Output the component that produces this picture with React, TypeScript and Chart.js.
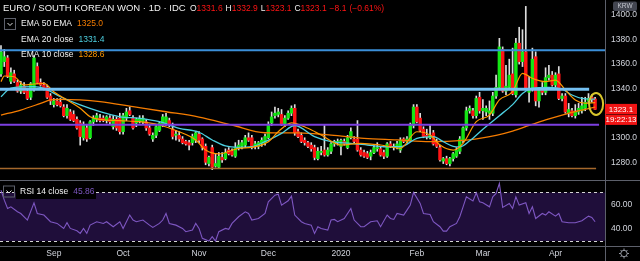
import React, { useEffect, useRef } from 'react';
import { Chart, registerables } from 'chart.js';

Chart.register(...registerables);

// ---------- DATA ----------
const openP = [
  1352, 1362, 1365, 1346, 1352, 1345, 1338, 1342, 1338, 1333, 1340, 1358, 1345, 1343, 1341, 1334, 1327, 1330, 1329, 1325,
  1318, 1321, 1319, 1315, 1312, 1300, 1308, 1300, 1313, 1315, 1316, 1316, 1314, 1316, 1309, 1315, 1316, 1305, 1316, 1322,
  1316, 1312, 1314, 1313, 1313, 1308, 1299, 1302, 1306, 1310, 1312, 1314, 1307, 1302, 1302, 1299, 1297, 1296, 1296, 1298,
  1303, 1299, 1293, 1279, 1292, 1277, 1276, 1284, 1283, 1290, 1289, 1285, 1292, 1293, 1294, 1300, 1300, 1293, 1293, 1295,
  1296, 1300, 1312, 1318, 1319, 1319, 1311, 1316, 1320, 1324, 1305, 1302, 1298, 1296, 1294, 1292, 1283, 1288, 1290, 1286,
  1289, 1295, 1296, 1293, 1297, 1292, 1300, 1299, 1299, 1290, 1288, 1287, 1285, 1288, 1291, 1291, 1288, 1285, 1295, 1292,
  1292, 1290, 1299, 1297, 1298, 1310, 1325, 1316, 1307, 1302, 1300, 1304, 1297, 1292, 1281, 1283, 1279, 1283, 1285, 1289,
  1298, 1308, 1322, 1322, 1318, 1333, 1322, 1321, 1320, 1320, 1334, 1341, 1372, 1338, 1341, 1352, 1335, 1377, 1362, 1370,
  1337, 1340, 1366, 1330, 1340, 1337, 1349, 1351, 1343, 1352, 1332, 1334, 1320, 1322, 1318, 1321, 1322, 1324, 1330, 1333,
  1331.6,
];
const highP = [
  1375, 1372, 1367, 1357, 1355, 1347, 1346, 1345, 1340, 1345, 1367, 1361, 1348, 1345, 1343, 1336, 1332, 1332, 1332, 1327,
  1327, 1323, 1322, 1317, 1314, 1313, 1311, 1314, 1318, 1320, 1319, 1318, 1318, 1318, 1318, 1317, 1320, 1320, 1324, 1325,
  1318, 1316, 1318, 1318, 1315, 1310, 1304, 1310, 1313, 1319, 1320, 1316, 1312, 1306, 1305, 1301, 1298, 1298, 1303, 1305,
  1305, 1300, 1295, 1285, 1294, 1287, 1288, 1288, 1291, 1292, 1291, 1296, 1298, 1298, 1302, 1304, 1302, 1297, 1297, 1300,
  1303, 1313, 1321, 1325, 1324, 1323, 1318, 1322, 1326, 1327, 1307, 1304, 1300, 1297, 1296, 1294, 1292, 1293, 1310, 1292,
  1296, 1298, 1299, 1299, 1299, 1302, 1308, 1301, 1314, 1292, 1290, 1289, 1290, 1294, 1296, 1293, 1290, 1296, 1297, 1295,
  1297, 1300, 1300, 1301, 1312, 1327, 1327, 1320, 1309, 1307, 1310, 1306, 1299, 1294, 1284, 1285, 1284, 1288, 1292, 1301,
  1309, 1325, 1326, 1324, 1334, 1337, 1331, 1326, 1330, 1337, 1351, 1381, 1374, 1359, 1364, 1373, 1381, 1390, 1388, 1407,
  1350, 1373, 1370, 1340, 1345, 1357, 1359, 1354, 1353, 1358, 1336, 1336, 1328, 1324, 1327, 1328, 1333, 1333, 1336, 1335,
  1332.9,
];
const lowP = [
  1350, 1358, 1349, 1344, 1345, 1337, 1336, 1336, 1331, 1331, 1338, 1344, 1342, 1339, 1332, 1327, 1325, 1326, 1325, 1317,
  1316, 1314, 1313, 1307, 1294, 1298, 1297, 1299, 1310, 1313, 1313, 1313, 1312, 1311, 1307, 1306, 1303, 1303, 1314, 1318,
  1307, 1309, 1312, 1311, 1306, 1302, 1297, 1300, 1305, 1309, 1310, 1309, 1299, 1298, 1297, 1295, 1294, 1290, 1294, 1296,
  1296, 1290, 1278, 1277, 1274, 1276, 1275, 1280, 1282, 1286, 1285, 1284, 1290, 1291, 1292, 1297, 1291, 1291, 1291, 1293,
  1294, 1299, 1310, 1316, 1317, 1310, 1309, 1315, 1318, 1302, 1300, 1296, 1294, 1292, 1289, 1282, 1282, 1286, 1285, 1285,
  1287, 1293, 1294, 1286, 1294, 1291, 1299, 1296, 1289, 1285, 1284, 1283, 1282, 1287, 1289, 1285, 1283, 1284, 1292, 1290,
  1291, 1288, 1296, 1296, 1297, 1308, 1312, 1305, 1300, 1299, 1299, 1294, 1292, 1281, 1279, 1278, 1277, 1281, 1284, 1287,
  1296, 1306, 1320, 1316, 1316, 1320, 1315, 1318, 1315, 1318, 1332, 1339, 1337, 1335, 1339, 1335, 1333, 1360, 1358, 1339,
  1329, 1338, 1326, 1325, 1335, 1335, 1347, 1342, 1341, 1331, 1330, 1320, 1317, 1317, 1316, 1319, 1320, 1322, 1328, 1329,
  1323.1,
];
const closeP = [
  1370, 1366, 1350, 1353, 1346, 1338, 1343, 1337, 1332, 1344, 1365, 1345, 1343, 1340, 1333, 1330, 1330, 1327, 1326, 1318,
  1324, 1315, 1314, 1308, 1301, 1310, 1299, 1313, 1316, 1318, 1314, 1314, 1317, 1313, 1315, 1308, 1305, 1318, 1321, 1319,
  1308, 1315, 1316, 1316, 1308, 1303, 1302, 1309, 1312, 1317, 1317, 1310, 1301, 1303, 1299, 1296, 1295, 1294, 1301, 1304,
  1298, 1292, 1280, 1284, 1276, 1279, 1285, 1282, 1288, 1287, 1286, 1292, 1294, 1296, 1300, 1298, 1292, 1295, 1296, 1298,
  1301, 1311, 1317, 1320, 1321, 1311, 1316, 1320, 1324, 1304, 1301, 1297, 1296, 1293, 1291, 1284, 1289, 1289, 1286, 1290,
  1295, 1297, 1297, 1298, 1295, 1300, 1305, 1297, 1290, 1286, 1285, 1284, 1288, 1292, 1292, 1286, 1285, 1295, 1293, 1293,
  1295, 1298, 1297, 1299, 1310, 1325, 1313, 1306, 1301, 1301, 1302, 1295, 1293, 1282, 1283, 1279, 1283, 1287, 1290, 1299,
  1308, 1322, 1324, 1318, 1332, 1322, 1324, 1324, 1322, 1334, 1341, 1374, 1338, 1342, 1351, 1336, 1377, 1362, 1370, 1340,
  1340, 1364, 1330, 1339, 1337, 1349, 1351, 1343, 1351, 1332, 1334, 1321, 1323, 1318, 1321, 1324, 1326, 1329, 1332, 1331.2,
  1323.1,
];

const monthTicks = [16, 37, 60, 81, 103, 126, 146, 168];
const monthLabels = ['Sep', 'Oct', 'Nov', 'Dec', '2020', 'Feb', 'Mar', 'Apr'];
const priceTicks = [1280, 1300, 1340, 1360, 1380, 1400];
const rsiTicks = [40, 60];

const ema50 = [
  [0, 1318.5], [6, 1322.6], [12, 1328], [15, 1330.8], [18, 1331.3], [24, 1330.8], [30, 1329.4], [40, 1325.3],
  [50, 1321.2], [60, 1316.9], [70, 1310.4], [80, 1304.1], [90, 1303.9], [100, 1302.2], [110, 1299.5], [120, 1298.2],
  [130, 1296.8], [140, 1297.8], [145, 1299.5], [150, 1302], [155, 1305.5], [160, 1310], [165, 1314.5], [170, 1318.5],
  [175, 1322], [180, 1325.0],
];
const ema20 = [
  [0, 1333.4], [3, 1340.5], [10, 1341.6], [13, 1340.3], [18, 1333.4], [24, 1326.7], [30, 1321.2], [36, 1317.1],
  [42, 1315.8], [48, 1313.1], [54, 1307.7], [60, 1304.5], [64, 1298.2], [68, 1293.3], [72, 1292.2], [76, 1292.7],
  [80, 1296.8], [85, 1303.6], [89, 1310], [95, 1300.9], [100, 1296.8], [106, 1295.5], [111, 1294.1], [116, 1292.7],
  [121, 1292.7], [126, 1299.5], [131, 1300.9], [134, 1296.8], [137, 1293], [139, 1292.5], [142, 1297.5], [146, 1307],
  [151, 1318], [155, 1327], [158, 1336], [161, 1340.5], [166, 1341.1], [170, 1339.5], [173, 1334.8], [176, 1332.1],
  [180, 1331.4],
];
const ema10 = [
  [0, 1345.7], [1, 1350.3], [4, 1349.7], [7, 1343], [10, 1343.8], [13, 1344.3], [16, 1337.5], [20, 1330.8],
  [24, 1324], [27, 1317.1], [30, 1315], [36, 1313.9], [42, 1313.1], [48, 1310.4], [54, 1304.9], [59, 1298.2],
  [62, 1290], [66, 1286.8], [72, 1291.4], [76, 1292.2], [81, 1296.8], [84, 1304.9], [88, 1312.2], [93, 1307.7],
  [97, 1302.2], [103, 1294.1], [109, 1295.5], [115, 1294.1], [121, 1291.4], [126, 1304.9], [130, 1302.2], [133, 1294.1],
  [137, 1290], [140, 1295.5], [144, 1313.1], [148, 1318.5], [151, 1330.8], [155, 1337.5], [158, 1352.5], [161, 1348.4],
  [165, 1345.7], [168, 1347], [171, 1338.9], [174, 1330.8], [177, 1328.1], [180, 1328.6],
];
const rsi14 = [
  [0, 71.9], [1, 63.7], [2, 56.8], [3, 58.2], [5, 54.1], [6, 52.7], [8, 47.3], [10, 61.5], [11, 52.7], [13, 51.4],
  [15, 45.9], [17, 44.5], [19, 40.4], [20, 45.1], [21, 40.4], [23, 38.5], [24, 36.3], [25, 40.4], [26, 36.3], [27, 43.1],
  [29, 45.9], [31, 44.5], [32, 45.9], [34, 41.8], [36, 45.9], [37, 40.4], [39, 51.4], [40, 47.3], [41, 45.9], [43, 47.3],
  [45, 43.1], [46, 41.2], [48, 44.5], [49, 47.3], [50, 52.7], [51, 44.5], [53, 43.1], [55, 40.4], [56, 37.7], [58, 39],
  [59, 44.5], [60, 40.4], [61, 32.2], [63, 30], [64, 33.6], [65, 30], [66, 37.7], [68, 40.4], [69, 39.6], [70, 44.5],
  [72, 50], [74, 54.1], [75, 52.7], [76, 47.3], [78, 48.6], [80, 52.7], [81, 62.3], [83, 67.8], [84, 68.6], [85, 59.6],
  [87, 63.2], [88, 67], [89, 51.4], [91, 45.9], [92, 44.5], [94, 43.1], [95, 36.3], [96, 41.8], [97, 40.4], [99, 39],
  [100, 47.3], [101, 47.8], [102, 45.9], [104, 48.6], [106, 56.8], [107, 47.3], [109, 41.8], [110, 41.8], [112, 45.9],
  [114, 46.7], [115, 41.8], [117, 51.4], [118, 48.6], [119, 47.8], [120, 52.7], [122, 51.4], [123, 55.5], [124, 59.6],
  [125, 70], [127, 61], [128, 52.7], [130, 51.9], [131, 45.9], [133, 41.8], [134, 38.2], [135, 38.2], [136, 41.8],
  [138, 44.5], [139, 50], [140, 58.2], [141, 66.4], [143, 63.1], [144, 69.7], [145, 62.3], [146, 61.5], [148, 58.2],
  [149, 66.4], [150, 69.2], [151, 77.4], [152, 57.7], [154, 61], [155, 56.8], [156, 66.4], [157, 59.6], [159, 61.5],
  [160, 52.7], [161, 58.2], [162, 48.6], [164, 52.7], [165, 51.4], [166, 54.1], [168, 50.5], [169, 52.7], [170, 45.9],
  [172, 45.1], [174, 45.1], [176, 46.7], [178, 50.5], [179, 49.5], [180, 45.86],
];

const levelValues = [1371.3, 1339.5, 1310.5, 1275.0];
const levelEnds = [183, 178.2, 181.2, 180.3];
const levelColors = ['#3b8fd9', '#74c0f2', '#7c3fe0', '#a5682c'];
const levelWidths = [2, 3, 2, 1.5];

// ---------- STYLE ----------
const X_MIN = -0.3;
const X_MAX = 183;
const FONT = '"Liberation Sans", Arial, sans-serif';
const GREEN = '#14e614';
const RED = '#ff1414';
const WICK = '#dcdcdc';
const AXIS_TEXT = '#d1d4dc';
const LINE_GRAY = '#5d606b';
const ORANGE50 = '#f57c00';
const CYAN20 = '#4dd0e1';
const ORANGE10 = '#ff9800';
const RSI_COLOR = '#7e57c2';

const last = closeP.length - 1;

function drawChevronBox(ctx: CanvasRenderingContext2D, x: number, y: number) {
  ctx.strokeStyle = LINE_GRAY;
  ctx.lineWidth = 1;
  ctx.strokeRect(x + 0.5, y + 0.5, 11, 11);
  ctx.strokeStyle = '#e0e0e0';
  ctx.beginPath();
  ctx.moveTo(x + 3.5, y + 5);
  ctx.lineTo(x + 6, y + 7.5);
  ctx.lineTo(x + 8.5, y + 5);
  ctx.stroke();
}

const mainOverlay = {
  id: 'mainOverlay',
  afterDraw(chart: any) {
    const ctx = chart.ctx as CanvasRenderingContext2D;
    const xs = chart.scales.x;
    const ys = chart.scales.y;
    ctx.save();
    ctx.strokeStyle = LINE_GRAY;
    ctx.lineWidth = 1;
    ctx.beginPath();
    ctx.moveTo(605.5, 0);
    ctx.lineTo(605.5, 180);
    ctx.stroke();

    ctx.textBaseline = 'middle';
    ctx.textAlign = 'left';
    ctx.font = `9.5px ${FONT}`;
    ctx.fillStyle = '#f0f0f0';
    ctx.fillText('EURO / SOUTH KOREAN WON · 1D · IDC', 3, 8.5);

    ctx.font = `8.5px ${FONT}`;
    const chg = closeP[last] - closeP[last - 1];
    const pct = (chg / closeP[last - 1]) * 100;
    const parts: [string, string, number][] = [
      ['O', '#f0f0f0', 0], [openP[last].toFixed(1), RED, 3],
      ['H', '#f0f0f0', 0], [highP[last].toFixed(1), RED, 3],
      ['L', '#f0f0f0', 0], [lowP[last].toFixed(1), RED, 3],
      ['C', '#f0f0f0', 0], [closeP[last].toFixed(1), RED, 3],
      ['\u2212' + Math.abs(chg).toFixed(1), RED, 3],
      ['(\u2212' + Math.abs(pct).toFixed(2) + '%)', RED, 0],
    ];
    let px = 190;
    for (const [t, c, gap] of parts) {
      ctx.fillStyle = c;
      ctx.fillText(t, px, 9);
      px += ctx.measureText(t).width + gap;
    }

    drawChevronBox(ctx, 4, 18);
    ctx.font = `8.5px ${FONT}`;
    const rows: [string, string, string, number][] = [
      ['EMA 50 EMA', ema50[ema50.length - 1][1].toFixed(1), ORANGE50, 24],
      ['EMA 20 close', ema20[ema20.length - 1][1].toFixed(1), CYAN20, 39.5],
      ['EMA 10 close', ema10[ema10.length - 1][1].toFixed(1), ORANGE10, 55],
    ];
    for (const [lab, val, col, y] of rows) {
      ctx.fillStyle = '#f0f0f0';
      ctx.fillText(lab, 21, y);
      const w = ctx.measureText(lab).width;
      ctx.fillStyle = col;
      ctx.fillText(val, 21 + w + 5, y);
    }

    const cx = xs.getPixelForValue(last);
    const cy = ys.getPixelForValue(1327.5);
    ctx.strokeStyle = '#d8c62c';
    ctx.lineWidth = 2;
    ctx.beginPath();
    ctx.ellipse(cx + 1, cy, 7, 11, 0, 0, Math.PI * 2);
    ctx.stroke();

    const ly = ys.getPixelForValue(closeP[last]);
    ctx.fillStyle = '#f01414';
    ctx.fillRect(605, ly - 5.5, 32, 10.5);
    ctx.fillRect(605, ly + 5.5, 32, 10);
    ctx.fillStyle = '#ffffff';
    ctx.font = `8px ${FONT}`;
    ctx.textAlign = 'center';
    ctx.fillText(closeP[last].toFixed(1), 621, ly);
    ctx.fillText('19:22:13', 621, ly + 10.7);

    ctx.fillStyle = '#434651';
    ctx.beginPath();
    (ctx as any).roundRect(613, 1.5, 24, 9.5, 2);
    ctx.fill();
    ctx.fillStyle = '#c3c6ce';
    ctx.font = `6.5px ${FONT}`;
    ctx.fillText('KRW', 625, 6.5);
    ctx.restore();
  },
};

const rsiOverlay = {
  id: 'rsiOverlay',
  beforeDatasetsDraw(chart: any) {
    const ctx = chart.ctx as CanvasRenderingContext2D;
    const ys = chart.scales.y;
    const area = chart.chartArea;
    const y70 = ys.getPixelForValue(70);
    const y30 = ys.getPixelForValue(30);
    ctx.save();
    ctx.fillStyle = '#1f0e3a';
    ctx.fillRect(area.left, y70, area.right - area.left, y30 - y70);
    ctx.strokeStyle = '#d4d4d4';
    ctx.lineWidth = 1;
    ctx.setLineDash([3, 3]);
    ctx.beginPath();
    ctx.moveTo(area.left, Math.round(y70) + 0.5);
    ctx.lineTo(area.right, Math.round(y70) + 0.5);
    ctx.moveTo(area.left, Math.round(y30) + 0.5);
    ctx.lineTo(area.right, Math.round(y30) + 0.5);
    ctx.stroke();
    ctx.restore();
  },
  afterDraw(chart: any) {
    const ctx = chart.ctx as CanvasRenderingContext2D;
    ctx.save();
    ctx.strokeStyle = LINE_GRAY;
    ctx.lineWidth = 1;
    ctx.beginPath();
    ctx.moveTo(0, 0.5);
    ctx.lineTo(640, 0.5);
    ctx.moveTo(0, 66.5);
    ctx.lineTo(640, 66.5);
    ctx.moveTo(605.5, 0);
    ctx.lineTo(605.5, 81);
    ctx.stroke();

    ctx.fillStyle = '#000000';
    ctx.fillRect(16, 4, 80, 15);
    drawChevronBox(ctx, 3, 5.5);
    ctx.font = `8.5px ${FONT}`;
    ctx.textBaseline = 'middle';
    ctx.textAlign = 'left';
    ctx.fillStyle = '#f0f0f0';
    const lab = 'RSI 14 close';
    ctx.fillText(lab, 20, 11.5);
    ctx.fillStyle = RSI_COLOR;
    ctx.fillText(rsi14[rsi14.length - 1][1].toFixed(2), 20 + ctx.measureText(lab).width + 5, 11.5);

    const gx = 624, gy = 73.5;
    ctx.strokeStyle = '#9598a1';
    ctx.lineWidth = 1;
    ctx.beginPath();
    ctx.arc(gx, gy, 3.2, 0, Math.PI * 2);
    ctx.stroke();
    ctx.beginPath();
    for (let k = 0; k < 8; k++) {
      const a = (k * Math.PI) / 4;
      ctx.moveTo(gx + Math.cos(a) * 3.2, gy + Math.sin(a) * 3.2);
      ctx.lineTo(gx + Math.cos(a) * 5, gy + Math.sin(a) * 5);
    }
    ctx.stroke();
    ctx.restore();
  },
};

function yAfterFit(s: any) {
  s.width = 35;
  s.paddingTop = 0;
  s.paddingBottom = 0;
}

export default function App() {
  const mainRef = useRef<HTMLCanvasElement | null>(null);
  const rsiRef = useRef<HTMLCanvasElement | null>(null);

  useEffect(() => {
    document.body.style.margin = '0';
    document.body.style.background = '#000';
    const idx = closeP.map((_, i) => i);
    const wickData = idx.map((i) => ({ x: i, y: [lowP[i], highP[i]] }));
    const bodyData = idx.map((i) => ({ x: i, y: [openP[i], closeP[i]] }));
    const bodyColors = idx.map((i) => (closeP[i] >= openP[i] ? GREEN : RED));

    const lineDs = (pts: number[][], color: string, width: number, order: number) => ({
      type: 'line' as const,
      data: pts.map(([x, y]) => ({ x, y })),
      borderColor: color,
      borderWidth: width,
      pointRadius: 0,
      cubicInterpolationMode: 'monotone' as const,
      order,
    });

    const levelDs = levelValues.map((v, k) => ({
      type: 'line' as const,
      data: [{ x: X_MIN, y: v }, { x: levelEnds[k], y: v }],
      borderColor: levelColors[k],
      borderWidth: levelWidths[k],
      pointRadius: 0,
      order: 0,
    }));

    const tickFont = { family: FONT, size: 8.5 };

    const main = new Chart(mainRef.current as HTMLCanvasElement, {
      type: 'bar',
      data: {
        datasets: [
          {
            type: 'bar',
            data: wickData as any,
            backgroundColor: WICK,
            barThickness: 1,
            grouped: false,
            minBarLength: 1,
            order: 6,
          } as any,
          {
            type: 'bar',
            data: bodyData as any,
            backgroundColor: bodyColors,
            barThickness: 2.8,
            grouped: false,
            minBarLength: 1,
            order: 5,
          } as any,
          lineDs(ema50, ORANGE50, 1.3, 3),
          lineDs(ema20, CYAN20, 1.3, 2),
          lineDs(ema10, ORANGE10, 1.2, 1),
          ...levelDs,
        ] as any,
      },
      options: {
        responsive: false,
        animation: false,
        events: [],
        layout: { padding: 0 },
        plugins: { legend: { display: false }, tooltip: { enabled: false } },
        scales: {
          x: { type: 'linear', min: X_MIN, max: X_MAX, offset: false, display: false },
          y: {
            type: 'linear',
            position: 'right',
            min: 1265.6,
            max: 1412.2,
            beginAtZero: false,
            afterFit: yAfterFit,
            afterBuildTicks: (s: any) => {
              s.ticks = priceTicks.map((v) => ({ value: v }));
            },
            ticks: {
              callback: (v: any) => Number(v).toFixed(1),
              color: AXIS_TEXT,
              font: tickFont,
              padding: 6,
            },
            grid: { display: false, drawTicks: false },
            border: { display: false },
          },
        },
      } as any,
      plugins: [mainOverlay],
    });

    const rsi = new Chart(rsiRef.current as HTMLCanvasElement, {
      type: 'line',
      data: {
        datasets: [
          {
            data: rsi14.map(([x, y]) => ({ x, y })),
            borderColor: RSI_COLOR,
            borderWidth: 1.1,
            pointRadius: 0,
            tension: 0,
          },
        ],
      },
      options: {
        responsive: false,
        animation: false,
        events: [],
        layout: { padding: 0 },
        plugins: { legend: { display: false }, tooltip: { enabled: false } },
        scales: {
          x: {
            type: 'linear',
            min: X_MIN,
            max: X_MAX,
            offset: false,
            position: 'bottom',
            afterBuildTicks: (s: any) => {
              s.ticks = monthTicks.map((v) => ({ value: v }));
            },
            afterFit: (s: any) => {
              s.height = 15;
              s.paddingLeft = 0;
              s.paddingRight = 0;
            },
            ticks: {
              callback: (_v: any, i: number) => monthLabels[i],
              autoSkip: false,
              maxRotation: 0,
              minRotation: 0,
              color: AXIS_TEXT,
              font: tickFont,
              padding: 3,
            },
            grid: { display: false, drawTicks: false },
            border: { display: false },
          },
          y: {
            type: 'linear',
            position: 'right',
            min: 25.9,
            max: 80.3,
            afterFit: yAfterFit,
            afterBuildTicks: (s: any) => {
              s.ticks = rsiTicks.map((v) => ({ value: v }));
            },
            ticks: {
              callback: (v: any) => Number(v).toFixed(2),
              color: AXIS_TEXT,
              font: tickFont,
              padding: 6,
            },
            grid: { display: false, drawTicks: false },
            border: { display: false },
          },
        },
      } as any,
      plugins: [rsiOverlay],
    });

    return () => {
      main.destroy();
      rsi.destroy();
    };
  }, []);

  return (
    <div
      style={{
        position: 'fixed',
        left: 0,
        top: 0,
        width: 640,
        height: 261,
        background: '#000',
        overflow: 'hidden',
      }}
    >
      <canvas ref={mainRef} width={640} height={180} style={{ position: 'absolute', left: 0, top: 0, width: 640, height: 180 }} />
      <canvas ref={rsiRef} width={640} height={81} style={{ position: 'absolute', left: 0, top: 180, width: 640, height: 81 }} />
    </div>
  );
}
